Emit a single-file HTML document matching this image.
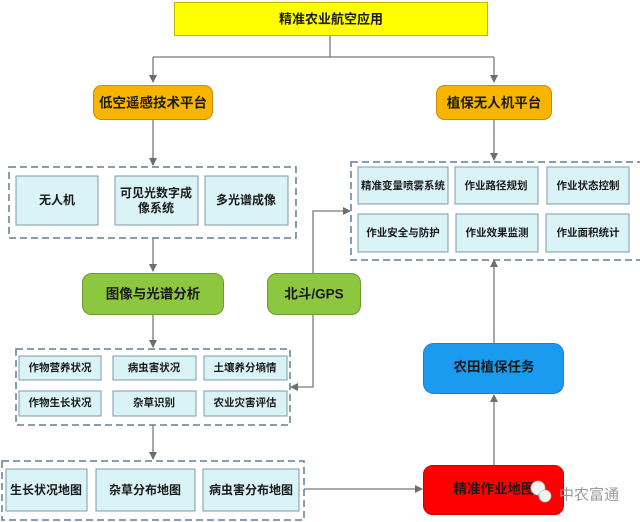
<!DOCTYPE html>
<html><head><meta charset="utf-8"><style>
html,body{margin:0;padding:0;background:#fff;}
svg{display:block;}
text{font-family:"Liberation Sans","Noto Sans CJK SC",sans-serif;font-weight:bold;text-anchor:middle;dominant-baseline:central;fill:#1a1a1a;}
.c{fill:#d9f3f7;stroke:#7f98a6;stroke-width:1;}
.d{fill:none;stroke:#5f7f96;stroke-width:1.5;stroke-dasharray:7,4;}
.l{stroke:#7a7a7a;stroke-width:1.3;fill:none;}
</style></head><body>
<svg width="640" height="522" viewBox="0 0 640 522" xmlns="http://www.w3.org/2000/svg">
<defs><marker id="a" markerWidth="8" markerHeight="8" refX="7" refY="4" orient="auto" markerUnits="userSpaceOnUse"><path d="M0,0 L8,4 L0,8 z" fill="#6e6e6e"/></marker></defs>
<!-- connectors -->
<path class="l" d="M330,35 V57 M153,57 H494"/>
<path class="l" d="M153,57 V82" marker-end="url(#a)"/>
<path class="l" d="M494,57 V82" marker-end="url(#a)"/>
<path class="l" d="M153,119 V165" marker-end="url(#a)"/>
<path class="l" d="M494,119 V160" marker-end="url(#a)"/>
<path class="l" d="M153,238 V271" marker-end="url(#a)"/>
<path class="l" d="M153,314 V347" marker-end="url(#a)"/>
<path class="l" d="M153,425 V459" marker-end="url(#a)"/>
<path class="l" d="M313,273 V211 H350" marker-end="url(#a)"/>
<path class="l" d="M313,314 V387 H291" marker-end="url(#a)"/>
<path class="l" d="M304,489 H422" marker-end="url(#a)"/>
<path class="l" d="M494,465 V395" marker-end="url(#a)"/>
<path class="l" d="M494,343 V260" marker-end="url(#a)"/>
<!-- top -->
<rect x="174.5" y="2.5" width="313" height="33" fill="#ffff00" stroke="#c9b300" stroke-width="1"/>
<text x="331" y="19" font-size="13">精准农业航空应用</text>
<!-- orange -->
<rect x="93.5" y="85.5" width="119" height="34" rx="8" fill="#f8b500" stroke="#c88a00"/>
<text x="153" y="103" font-size="13.5">低空遥感技术平台</text>
<rect x="436.5" y="85.5" width="115" height="34" rx="8" fill="#f8b500" stroke="#c88a00"/>
<text x="494" y="103" font-size="13.5">植保无人机平台</text>
<!-- left group -->
<rect class="d" x="9" y="167" width="287" height="71"/>
<rect class="c" x="16" y="176" width="82" height="49"/><text x="57" y="200" font-size="12">无人机</text>
<rect class="c" x="115" y="176" width="83" height="49"/><text x="156" y="193" font-size="12">可见光数字成</text><text x="156" y="208" font-size="12">像系统</text>
<rect class="c" x="205" y="176" width="83" height="49"/><text x="246" y="200" font-size="12">多光谱成像</text>
<!-- right group -->
<rect class="d" x="351" y="162" width="295" height="98"/>
<rect class="c" x="358" y="167" width="90" height="37"/><text x="403" y="186" font-size="10.5">精准变量喷雾系统</text>
<rect class="c" x="455" y="167" width="83" height="37"/><text x="496" y="186" font-size="10.5">作业路径规划</text>
<rect class="c" x="547" y="167" width="82" height="37"/><text x="588" y="186" font-size="10.5">作业状态控制</text>
<rect class="c" x="358" y="214" width="90" height="38"/><text x="403" y="233" font-size="10.5">作业安全与防护</text>
<rect class="c" x="456" y="214" width="82" height="38"/><text x="497" y="233" font-size="10.5">作业效果监测</text>
<rect class="c" x="546" y="214" width="83" height="38"/><text x="588" y="233" font-size="10.5">作业面积统计</text>
<!-- green -->
<rect x="82.5" y="273.5" width="141" height="41" rx="9" fill="#8dc63f" stroke="#6b9a2e"/>
<text x="153" y="294" font-size="13.5">图像与光谱分析</text>
<rect x="267.5" y="273.5" width="93" height="41" rx="9" fill="#8dc63f" stroke="#6b9a2e"/>
<text x="314" y="294" font-size="13.5">北斗/GPS</text>
<!-- middle group -->
<rect class="d" x="16" y="349" width="274" height="76"/>
<rect class="c" x="19" y="356" width="82" height="24"/><text x="60" y="368" font-size="10.5">作物营养状况</text>
<rect class="c" x="113" y="356" width="83" height="24"/><text x="154" y="368" font-size="10.5">病虫害状况</text>
<rect class="c" x="204" y="356" width="83" height="24"/><text x="245" y="368" font-size="10.5">土壤养分墒情</text>
<rect class="c" x="19" y="391" width="82" height="25"/><text x="60" y="403" font-size="10.5">作物生长状况</text>
<rect class="c" x="113" y="391" width="83" height="25"/><text x="154" y="403" font-size="10.5">杂草识别</text>
<rect class="c" x="204" y="391" width="83" height="25"/><text x="245" y="403" font-size="10.5">农业灾害评估</text>
<!-- bottom group -->
<rect class="d" x="2" y="461" width="302" height="59"/>
<rect class="c" x="6" y="469" width="81" height="42"/><text x="46" y="490" font-size="12">生长状况地图</text>
<rect class="c" x="96" y="469" width="99" height="42"/><text x="145" y="490" font-size="12">杂草分布地图</text>
<rect class="c" x="203" y="469" width="96" height="42"/><text x="251" y="490" font-size="12">病虫害分布地图</text>
<!-- blue / red -->
<rect x="423.5" y="343.5" width="140" height="50" rx="10" fill="#1a9bf0" stroke="#1a7fd0"/>
<text x="494" y="367" font-size="13.5">农田植保任务</text>
<rect x="423.5" y="465.5" width="140" height="49" rx="9" fill="#ff0000" stroke="#d00000"/>
<text x="494" y="489" font-size="13.5">精准作业地图</text>
<!-- watermark -->
<circle cx="538" cy="488" r="7" fill="#f4f4f4" stroke="#bbb" stroke-width="0.8"/>
<circle cx="545" cy="496" r="6" fill="#f4f4f4" stroke="#bbb" stroke-width="0.8"/>
<text x="589" y="495" font-size="15" style="font-weight:normal;fill:#9a9a9a">中农富通</text>
</svg>
</body></html>
